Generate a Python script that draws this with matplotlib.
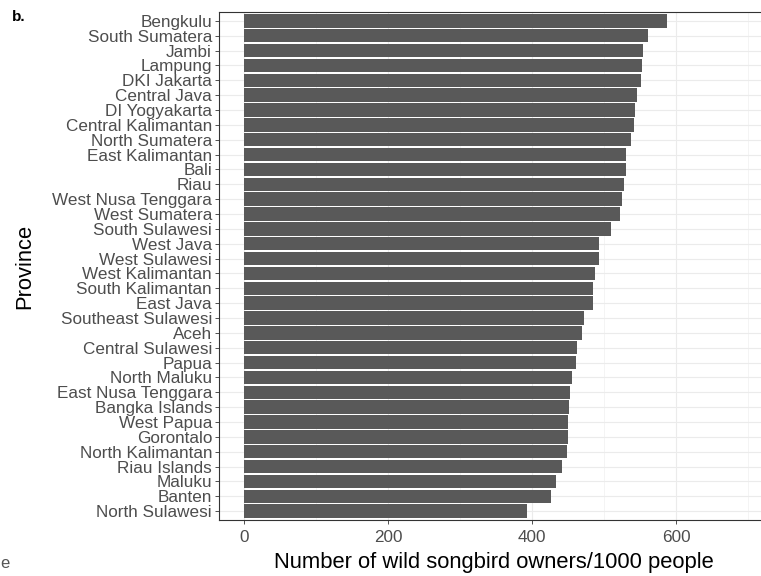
import matplotlib
matplotlib.use("Agg")
import matplotlib.pyplot as plt
from matplotlib.ticker import MultipleLocator

plt.rcParams["font.family"] = ["Liberation Sans", "DejaVu Sans"]

# provinces top to bottom, owners per 1000 people
provinces = [
    "Bengkulu", "South Sumatera", "Jambi", "Lampung", "DKI Jakarta",
    "Central Java", "DI Yogyakarta", "Central Kalimantan", "North Sumatera",
    "East Kalimantan", "Bali", "Riau", "West Nusa Tenggara", "West Sumatera",
    "South Sulawesi", "West Java", "West Sulawesi", "West Kalimantan",
    "South Kalimantan", "East Java", "Southeast Sulawesi", "Aceh",
    "Central Sulawesi", "Papua", "North Maluku", "East Nusa Tenggara",
    "Bangka Islands", "West Papua", "Gorontalo", "North Kalimantan",
    "Riau Islands", "Maluku", "Banten", "North Sulawesi",
]
owners = [
    587, 561, 554, 552, 551,
    546, 543, 541, 537,
    530, 530, 527, 525, 522,
    510, 493, 493, 488,
    485, 485, 472, 469,
    463, 461, 455, 452,
    451, 450, 450, 448,
    441, 433, 426, 393,
]
xticks = [0, 200, 400, 600]

fig = plt.figure(figsize=(7.61, 5.76), dpi=100)
ax = fig.add_axes([219 / 761, 1 - 520 / 576, 550 / 761, 508 / 576])

ypos = list(range(len(provinces)))[::-1]
ax.barh(ypos, owners, height=0.9, color="#595959", zorder=3)

ax.set_xlim(-34.7, 729)
ax.set_ylim(-0.6, len(provinces) - 0.4)
ax.set_yticks(ypos)
ax.set_yticklabels(provinces)
ax.set_xticks(xticks)
ax.xaxis.set_minor_locator(MultipleLocator(100))

ax.grid(True, which="major", color="#EBEBEB", lw=0.8, zorder=0)
ax.grid(True, which="minor", axis="x", color="#F2F2F2", lw=0.6, zorder=0)
ax.tick_params(axis="both", which="major", colors="#333333", length=3,
               width=0.6, labelcolor="#4D4D4D", labelsize=12.3)
ax.tick_params(axis="x", which="minor", length=0)
ax.tick_params(axis="x", pad=4)
ax.tick_params(axis="y", pad=2)
for s in ax.spines.values():
    s.set_color("#333333")
    s.set_linewidth(0.8)

ax.set_xlabel("Number of wild songbird owners/1000 people", fontsize=15.8,
              labelpad=5)
ax.set_ylabel("Province", fontsize=15.8, labelpad=12)

fig.text(12 / 761, 1 - 17 / 576, "b.", fontsize=11, fontweight="bold",
         va="center", ha="left")
fig.text(0, 1 - 563 / 576, "e", fontsize=12, va="center", ha="left",
         color="#555555")

fig.savefig("out.png", dpi=100)
